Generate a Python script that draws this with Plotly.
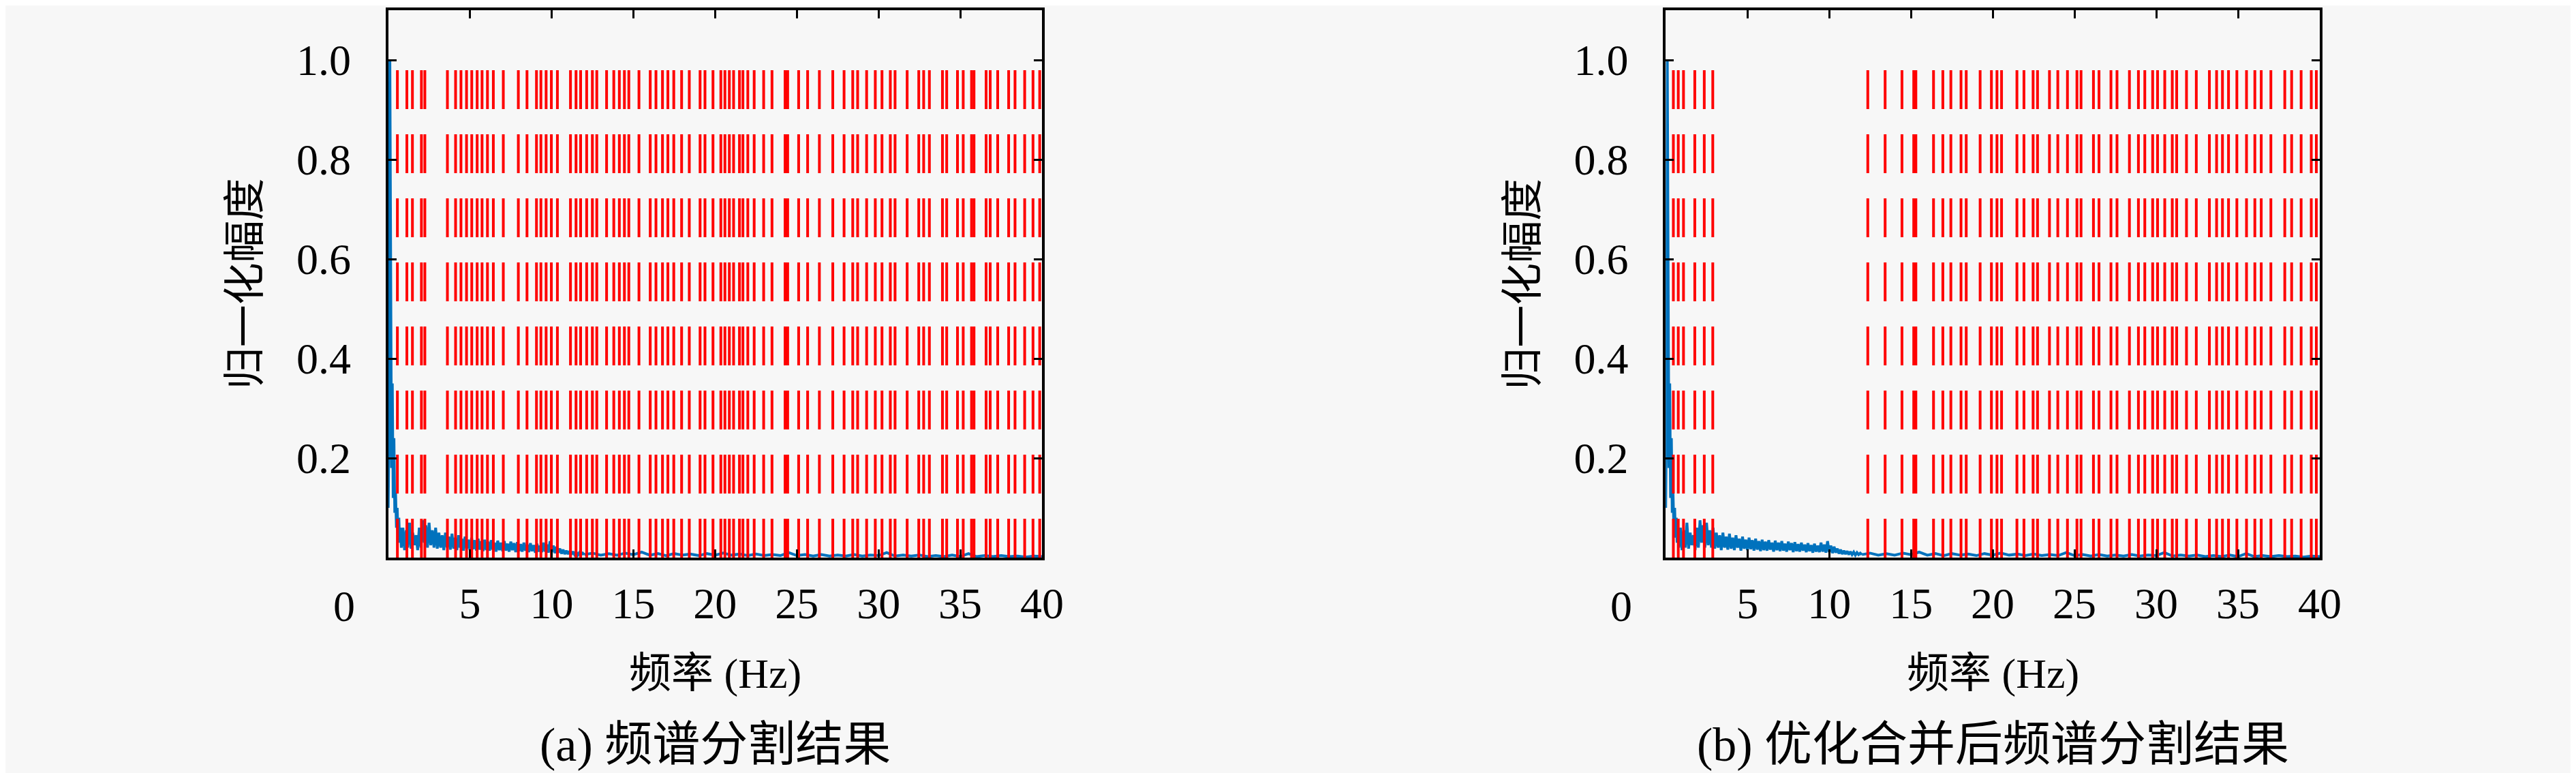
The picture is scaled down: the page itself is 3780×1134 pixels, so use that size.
import plotly.graph_objects as go
from plotly.subplots import make_subplots

# boundaries found by the segmentation (Hz)
bounds_a = [0.56, 1.14, 1.48, 2.03, 2.24, 3.62, 4.12, 4.45, 4.79, 5.11, 5.44, 5.74,
            6.07, 6.43, 7.04, 7.96, 8.49, 9.07, 9.34, 9.66, 9.98, 10.35, 11.15, 11.49,
            11.77, 12.14, 12.49, 12.76, 13.36, 13.80, 14.14, 14.45, 14.72, 15.34, 16.03,
            16.38, 16.78, 17.11, 17.47, 17.95, 18.42, 19.08, 19.38, 19.87, 20.35, 20.60,
            20.87, 21.13, 21.49, 21.70, 22.00, 22.39, 22.97, 23.48, 24.28, 24.44, 25.11,
            25.66, 26.38, 27.20, 27.89, 28.42, 28.72, 29.27, 29.80, 30.21, 30.72, 31.01,
            31.75, 32.46, 32.76, 33.11, 33.91, 34.17, 34.83, 35.18, 35.69, 35.84, 36.58,
            36.83, 37.29, 37.96, 38.35, 38.94, 39.45, 39.86]

# boundaries after merging
bounds_b = [0.47, 0.77, 1.09, 1.78, 2.36, 2.88, 12.36, 13.42, 14.45, 15.17, 15.30,
            16.38, 16.95, 17.44, 18.06, 18.38, 19.23, 19.92, 20.26, 20.54, 21.48, 21.91,
            22.47, 22.74, 23.47, 23.98, 24.57, 25.15, 25.40, 26.16, 26.50, 27.23, 27.60,
            28.36, 28.91, 29.30, 29.78, 30.08, 30.52, 30.98, 31.25, 31.85, 32.45, 33.25,
            33.69, 34.05, 34.42, 34.93, 35.52, 36.03, 36.42, 37.01, 37.86, 38.28, 38.86,
            39.48, 39.79]
bound_top = 0.98

spec_low_f0, spec_low_df = 0.0, 0.05
spec_low = [0.10, 0.28, 1.00, 0.62, 0.18, 0.35, 0.12, 0.24, 0.09, 0.13, 0.06, 0.10,
            0.04, 0.08, 0.03, 0.06, 0.02]

spec_mid_f0, spec_mid_df = 0.8, 0.1
spec_mid = [0.020, 0.060, 0.015, 0.055, 0.020, 0.070, 0.018, 0.050, 0.025, 0.045,
            0.015, 0.060, 0.020, 0.075, 0.030, 0.065, 0.020, 0.070, 0.025, 0.055,
            0.020, 0.060, 0.018, 0.050, 0.020, 0.045, 0.015, 0.050, 0.020, 0.042,
            0.016, 0.048, 0.018, 0.040, 0.015, 0.045, 0.020, 0.038, 0.014, 0.042,
            0.018, 0.036, 0.015, 0.040, 0.017, 0.035, 0.014, 0.038, 0.016, 0.033,
            0.013, 0.036, 0.015, 0.032, 0.014, 0.035, 0.016, 0.030, 0.012, 0.034,
            0.015, 0.030, 0.013, 0.033, 0.014, 0.028, 0.012, 0.032, 0.015, 0.029,
            0.011, 0.031, 0.013, 0.027, 0.012, 0.030, 0.014, 0.026, 0.011, 0.029,
            0.013, 0.025, 0.010, 0.028, 0.012, 0.024, 0.011, 0.030, 0.012, 0.026,
            0.010, 0.033, 0.011, 0.024, 0.009, 0.022, 0.010, 0.018, 0.008, 0.016,
            0.007, 0.014, 0.007, 0.013, 0.006, 0.012, 0.006, 0.011, 0.005, 0.010,
            0.006, 0.009, 0.006]

spec_high_f0, spec_high_df = 12.0, 0.5
spec_high = [0.006, 0.009, 0.005, 0.008, 0.005, 0.009, 0.006, 0.011, 0.005, 0.008,
             0.004, 0.008, 0.005, 0.007, 0.004, 0.008, 0.005, 0.009, 0.005, 0.007,
             0.004, 0.007, 0.004, 0.006, 0.004, 0.010, 0.004, 0.006, 0.003, 0.006,
             0.003, 0.005, 0.003, 0.006, 0.003, 0.005, 0.004, 0.010, 0.003, 0.005,
             0.003, 0.005, 0.002, 0.004, 0.002, 0.005, 0.002, 0.008, 0.002, 0.004,
             0.002, 0.004, 0.002, 0.003, 0.001, 0.003, 0.002]

x_ticks = [5, 10, 15, 20, 25, 30, 35, 40]
y_ticks = [0.2, 0.4, 0.6, 0.8, 1.0]
captions = ["(a) 频谱分割结果", "(b) 优化合并后频谱分割结果"]
x_title = "频率 (Hz)"
y_title = "归一化幅度"

BLUE = "#0072BD"
RED = "#FF0000"
BG = "#F7F7F7"
FONT = "Liberation Serif, Noto Sans CJK SC"

W, H = 3780, 1134

fig = make_subplots(rows=1, cols=2)

for col, bounds in [(1, bounds_a), (2, bounds_b)]:
    for f0, df, vals in [(spec_low_f0, spec_low_df, spec_low),
                         (spec_mid_f0, spec_mid_df, spec_mid),
                         (spec_high_f0, spec_high_df, spec_high)]:
        fig.add_trace(go.Scatter(x0=f0, dx=df, y=vals, mode="lines",
                                 line=dict(color=BLUE, width=4), showlegend=False),
                      row=1, col=col)
    bx, by = [], []
    for b in bounds:
        bx += [b, b, None]
        by += [0, bound_top, None]
    fig.add_trace(go.Scatter(x=bx, y=by, mode="lines",
                             line=dict(color=RED, width=4, dash="57px,37px"),
                             showlegend=False), row=1, col=col)

# axis placement in pixels of the original figure
x_doms = [[566.5 / W, 1534 / W], [2457 / W, 3425 / W]]
y_dom = [1 - 810 / H, 1 - 7 / H]

axis_style = dict(showline=True, linecolor="black", linewidth=4, mirror="allticks",
                  ticks="inside", ticklen=12, tickwidth=3, tickcolor="black",
                  showgrid=False, zeroline=False,
                  tickfont=dict(family=FONT, size=64, color="black"))

for i in range(2):
    fig.update_xaxes(domain=x_doms[i], range=[0, 40], tickvals=x_ticks,
                     ticklabelstandoff=8, row=1, col=i + 1, **axis_style)
    fig.update_yaxes(domain=y_dom, range=[0, 1.1], tickvals=y_ticks, tickformat=".1f",
                     ticklabelstandoff=38, row=1, col=i + 1, **axis_style)

annos = []
for i in range(2):
    xr = "x" if i == 0 else "x2"
    yr = "y" if i == 0 else "y2"
    # the lone "0" under the corner
    annos.append(dict(x=0, y=0, xref=xr, yref=yr, text="0", showarrow=False,
                      xshift=-65, yshift=-71, xanchor="center", yanchor="middle",
                      font=dict(family=FONT, size=64, color="black")))
    annos.append(dict(x=0.5, y=0, xref=xr + " domain", yref=yr + " domain",
                      text=x_title, showarrow=False, yshift=-170,
                      xanchor="center", yanchor="middle",
                      font=dict(family=FONT, size=62, color="black")))
    annos.append(dict(x=0, y=0.5, xref=xr + " domain", yref=yr + " domain",
                      text=y_title, showarrow=False, xshift=-210, textangle=-90,
                      xanchor="center", yanchor="middle",
                      font=dict(family=FONT, size=62, color="black")))
    annos.append(dict(x=0.5, y=0, xref=xr + " domain", yref=yr + " domain",
                      text=captions[i], showarrow=False, yshift=-274,
                      xanchor="center", yanchor="middle",
                      font=dict(family=FONT, size=70, color="black")))

fig.update_layout(width=W, height=H, margin=dict(l=0, r=0, t=0, b=0),
                  paper_bgcolor=BG, plot_bgcolor=BG, annotations=annos,
                  showlegend=False)

fig.write_html("out.html")
